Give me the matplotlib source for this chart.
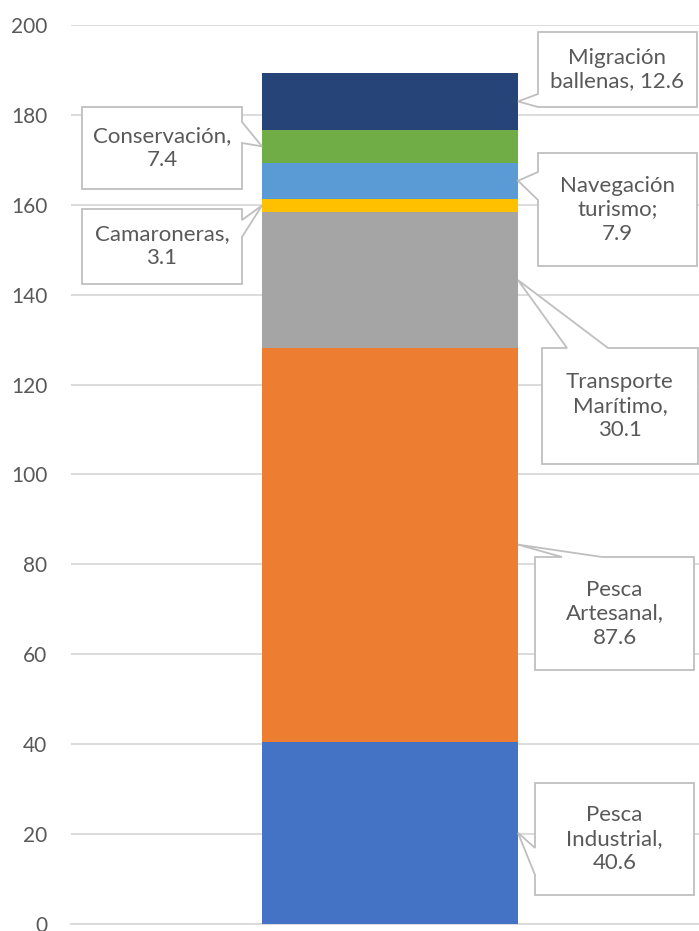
import matplotlib
matplotlib.use("Agg")
import matplotlib.pyplot as plt
from matplotlib.patches import Polygon

# --- data -------------------------------------------------------------
sectors = ["Pesca Industrial", "Pesca Artesanal", "Transporte Marítimo",
           "Camaroneras", "Navegación turismo", "Conservación",
           "Migración ballenas"]
values = [40.6, 87.6, 30.1, 3.1, 7.9, 7.4, 12.6]
label_text = ["Pesca\nIndustrial,", "Pesca\nArtesanal,", "Transporte\nMarítimo,",
              "Camaroneras,", "Navegación\nturismo;", "Conservación,",
              "Migración\nballenas,"]
label_sep = ["\n", "\n", "\n", "\n", "\n", "\n", " "]
yticks = [0, 20, 40, 60, 80, 100, 120, 140, 160, 180, 200]

colors = ["#4472C4", "#ED7D31", "#A5A5A5", "#FFC000", "#5B9BD5", "#70AD47", "#264478"]

# --- figure -----------------------------------------------------------
W, H = 699, 931
DPI = 100
plt.rcParams["font.family"] = ["Lato", "DejaVu Sans"]
fig = plt.figure(figsize=(W / DPI, H / DPI), dpi=DPI)

ax_left, ax_right, ax_top, ax_bottom = 71, 699, 25, 924
ax = fig.add_axes([ax_left / W, 1 - ax_bottom / H,
                   (ax_right - ax_left) / W, (ax_bottom - ax_top) / H])

bar_w = 0.6
px_per_unit = 256 / bar_w
xl = -(390 - ax_left) / px_per_unit
xr = (ax_right - 390) / px_per_unit
ax.set_xlim(xl, xr)
ax.set_ylim(0, 200)

bottom = 0
bottoms = []
for v, c in zip(values, colors):
    ax.bar(0, v, width=bar_w, bottom=bottom, color=c, zorder=3)
    bottoms.append(bottom)
    bottom += v

ax.set_yticks(yticks)
ax.set_yticklabels([str(t) for t in yticks])
ax.set_xticks([])
ax.tick_params(axis="y", length=0, pad=17, labelsize=15, labelcolor="#595959")
ax.yaxis.grid(True, color="#D9D9D9", linewidth=1.3, zorder=0)
for s in ["top", "right", "left"]:
    ax.spines[s].set_visible(False)
ax.spines["bottom"].set_color("#D9D9D9")
ax.spines["bottom"].set_linewidth(1.3)
ax.set_axisbelow(True)


def to_fig(x, y):
    return (x / W, 1 - y / H)


def data_to_px(x, y):
    dx, dy = ax.transData.transform((x, y))
    return dx, H - dy


# callout layout: box (x0, y0, x1, y1) in pixels, side of wedge, wedge span
layout = [
    ((535, 783, 694, 895), "left", (848, 875), "right"),
    ((535, 557, 694, 670), "top", (562, 602), "right"),
    ((542, 348, 698, 464), "top", (567, 608), "right"),
    ((82, 209, 242, 284), "right", (220, 237), "left"),
    ((538, 153, 697, 266), "left", (172, 200), "right"),
    ((82, 107, 242, 189), "right", (122, 143), "left"),
    ((538, 32, 697, 107), "left", (94, 107), "right"),
]

for i, (box, side, span, edge) in enumerate(layout):
    x0, y0, x1, y1 = box
    mid = bottoms[i] + values[i] / 2
    ex = bar_w / 2 if edge == "right" else -bar_w / 2
    tip = data_to_px(ex, mid)
    a, b = span
    if side == "left":
        pts = [(x0, y0), (x1, y0), (x1, y1), (x0, y1), (x0, b), tip, (x0, a)]
    elif side == "right":
        pts = [(x0, y0), (x1, y0), (x1, a), tip, (x1, b), (x1, y1), (x0, y1)]
    else:  # top
        pts = [(x0, y0), (a, y0), tip, (b, y0), (x1, y0), (x1, y1), (x0, y1)]
    poly = Polygon([to_fig(*p) for p in pts], closed=True,
                   transform=fig.transFigure, facecolor="white",
                   edgecolor="#BFBFBF", linewidth=1.3, zorder=5)
    fig.patches.append(poly)
    txt = f"{label_text[i]}{label_sep[i]}{values[i]}"
    cx, cy = to_fig((x0 + x1) / 2, (y0 + y1) / 2)
    fig.text(cx, cy, txt, ha="center", va="center", fontsize=16,
             color="#595959", linespacing=1.25, zorder=6)

fig.savefig("out.png", dpi=DPI)
